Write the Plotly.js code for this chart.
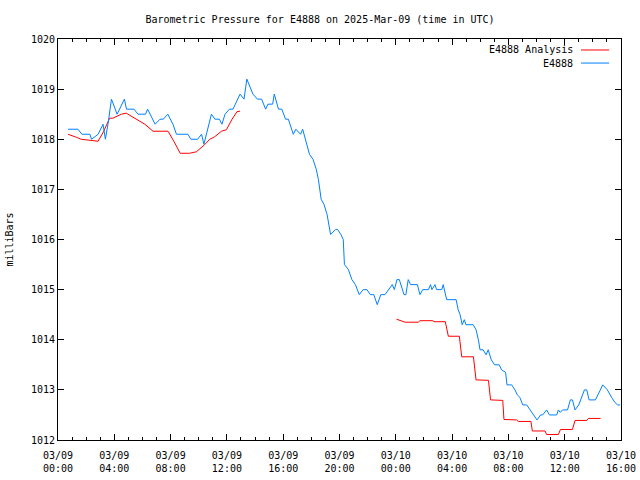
<!DOCTYPE html>
<html>
<head>
<meta charset="utf-8">
<script src="https://cdn.plot.ly/plotly-3.0.1.min.js"></script>
<style>html,body{margin:0;padding:0;background:#fff;}#chart{width:640px;height:480px;}</style>
</head>
<body>
<div id="chart"></div>
<script>
// Observed station pressure (E4888), times in UTC
const obsTimes = [
"2025-03-09 00:43","2025-03-09 01:25","2025-03-09 01:42","2025-03-09 02:16","2025-03-09 02:23","2025-03-09 02:51",
"2025-03-09 03:12","2025-03-09 03:22","2025-03-09 03:33","2025-03-09 03:48","2025-03-09 04:12","2025-03-09 04:43",
"2025-03-09 04:52","2025-03-09 05:24","2025-03-09 05:41","2025-03-09 06:13","2025-03-09 06:22","2025-03-09 06:54",
"2025-03-09 07:15","2025-03-09 07:29","2025-03-09 07:48","2025-03-09 08:10","2025-03-09 08:25","2025-03-09 09:14",
"2025-03-09 09:26","2025-03-09 09:55","2025-03-09 10:12","2025-03-09 10:22","2025-03-09 10:54","2025-03-09 11:09",
"2025-03-09 11:28","2025-03-09 11:39","2025-03-09 11:52","2025-03-09 12:11","2025-03-09 12:26","2025-03-09 12:56",
"2025-03-09 13:13","2025-03-09 13:25","2025-03-09 13:51","2025-03-09 14:10","2025-03-09 14:28","2025-03-09 14:45",
"2025-03-09 14:55","2025-03-09 15:15","2025-03-09 15:22","2025-03-09 15:40","2025-03-09 15:54","2025-03-09 16:10",
"2025-03-09 16:22","2025-03-09 16:43","2025-03-09 16:54","2025-03-09 17:14","2025-03-09 17:23","2025-03-09 17:35",
"2025-03-09 17:52","2025-03-09 18:07","2025-03-09 18:21","2025-03-09 18:30","2025-03-09 18:36","2025-03-09 18:42",
"2025-03-09 18:54","2025-03-09 19:07","2025-03-09 19:22","2025-03-09 19:43","2025-03-09 19:52","2025-03-09 20:06",
"2025-03-09 20:16","2025-03-09 20:21","2025-03-09 20:38","2025-03-09 20:53","2025-03-09 21:08","2025-03-09 21:24",
"2025-03-09 21:41","2025-03-09 21:57","2025-03-09 22:11","2025-03-09 22:26","2025-03-09 22:41","2025-03-09 22:56",
"2025-03-09 23:14","2025-03-09 23:31","2025-03-09 23:45","2025-03-09 23:54","2025-03-10 00:05","2025-03-10 00:15",
"2025-03-10 00:25","2025-03-10 00:35","2025-03-10 00:43","2025-03-10 00:53","2025-03-10 01:03","2025-03-10 01:32",
"2025-03-10 01:43","2025-03-10 01:55","2025-03-10 02:19","2025-03-10 02:28","2025-03-10 02:34","2025-03-10 02:47",
"2025-03-10 02:54","2025-03-10 03:16","2025-03-10 03:22","2025-03-10 03:37","2025-03-10 04:17","2025-03-10 04:26",
"2025-03-10 04:34","2025-03-10 04:43","2025-03-10 04:52","2025-03-10 04:59","2025-03-10 05:30","2025-03-10 05:42",
"2025-03-10 05:52","2025-03-10 05:59","2025-03-10 06:12","2025-03-10 06:25","2025-03-10 06:34","2025-03-10 06:47",
"2025-03-10 07:01","2025-03-10 07:21","2025-03-10 07:31","2025-03-10 07:48","2025-03-10 07:54","2025-03-10 08:14",
"2025-03-10 08:28","2025-03-10 08:38","2025-03-10 08:49","2025-03-10 09:01","2025-03-10 09:18","2025-03-10 09:32",
"2025-03-10 09:46","2025-03-10 10:02","2025-03-10 10:17","2025-03-10 10:26","2025-03-10 10:43","2025-03-10 10:55",
"2025-03-10 11:26","2025-03-10 11:33","2025-03-10 11:41","2025-03-10 11:51","2025-03-10 12:12","2025-03-10 12:24",
"2025-03-10 12:33","2025-03-10 12:44","2025-03-10 13:00","2025-03-10 13:14","2025-03-10 13:24","2025-03-10 13:34",
"2025-03-10 13:44","2025-03-10 14:11","2025-03-10 14:20","2025-03-10 14:32","2025-03-10 14:42","2025-03-10 15:02",
"2025-03-10 15:20","2025-03-10 15:34","2025-03-10 15:45","2025-03-10 15:56"
];
const obsPressure = [
1018.2,1018.2,1018.1,1018.1,1018.0,1018.1,
1018.3,1018.0,1018.3,1018.8,1018.5,1018.8,
1018.6,1018.6,1018.5,1018.5,1018.6,1018.3,
1018.4,1018.4,1018.5,1018.3,1018.1,1018.1,
1018.0,1018.0,1018.1,1017.9,1018.5,1018.4,
1018.4,1018.3,1018.5,1018.6,1018.6,1018.9,
1018.8,1019.2,1018.9,1018.8,1018.8,1018.6,
1018.7,1018.7,1018.9,1018.6,1018.6,1018.4,
1018.4,1018.1,1018.2,1018.1,1018.2,1018.0,
1017.7,1017.6,1017.4,1017.2,1017.0,1016.8,
1016.7,1016.5,1016.1,1016.2,1016.2,1016.1,
1016.0,1015.5,1015.4,1015.2,1015.1,1014.9,
1015.0,1015.0,1014.9,1014.9,1014.7,1014.9,
1014.9,1015.0,1015.1,1015.0,1015.2,1015.2,
1015.05,1014.9,1014.9,1015.2,1015.1,1015.1,
1014.9,1015.0,1015.0,1015.1,1015.0,1015.1,
1015.0,1015.0,1015.1,1014.8,1014.8,1014.6,
1014.5,1014.3,1014.4,1014.3,1014.3,1014.2,
1014.0,1013.8,1013.8,1013.7,1013.8,1013.6,
1013.5,1013.5,1013.4,1013.35,1013.1,1013.1,
1013.0,1012.9,1012.85,1012.7,1012.7,1012.6,
1012.5,1012.4,1012.5,1012.5,1012.6,1012.5,
1012.5,1012.6,1012.55,1012.6,1012.6,1012.8,
1012.8,1012.6,1012.7,1012.9,1013.0,1013.0,
1012.8,1012.8,1012.9,1013.0,1013.1,1013.0,
1012.85,1012.75,1012.7,1012.7
];

// Analysis pressure (null marks the gap in the analysis record)
const anaTimes = [
"2025-03-09 00:43","2025-03-09 00:57","2025-03-09 01:18","2025-03-09 01:39","2025-03-09 02:08","2025-03-09 02:29",
"2025-03-09 02:51","2025-03-09 03:15","2025-03-09 03:40","2025-03-09 03:54","2025-03-09 04:09","2025-03-09 04:30",
"2025-03-09 04:51","2025-03-09 05:06","2025-03-09 05:41","2025-03-09 06:10","2025-03-09 06:45","2025-03-09 07:49",
"2025-03-09 08:15","2025-03-09 08:41","2025-03-09 09:21","2025-03-09 09:50","2025-03-09 10:25","2025-03-09 10:47",
"2025-03-09 11:08","2025-03-09 11:37","2025-03-09 11:58","2025-03-09 12:22","2025-03-09 12:43","2025-03-09 12:56",
"2025-03-09 18:00",
"2025-03-10 00:03","2025-03-10 00:18","2025-03-10 00:40","2025-03-10 01:36","2025-03-10 01:43","2025-03-10 02:38",
"2025-03-10 02:43","2025-03-10 03:31","2025-03-10 03:37","2025-03-10 03:44","2025-03-10 04:31","2025-03-10 04:41",
"2025-03-10 05:31","2025-03-10 05:42","2025-03-10 06:35","2025-03-10 06:44","2025-03-10 07:36","2025-03-10 07:41",
"2025-03-10 08:35","2025-03-10 08:42","2025-03-10 09:36","2025-03-10 09:42","2025-03-10 10:36","2025-03-10 10:43",
"2025-03-10 11:33","2025-03-10 11:42","2025-03-10 12:33","2025-03-10 12:44","2025-03-10 13:34","2025-03-10 13:41",
"2025-03-10 14:33"
];
const anaPressure = [
1018.10,1018.08,1018.04,1018.00,1017.98,1017.96,
1017.96,1018.16,1018.42,1018.42,1018.46,1018.50,
1018.52,1018.48,1018.38,1018.30,1018.16,1018.16,
1017.95,1017.72,1017.72,1017.75,1017.89,1018.00,
1018.05,1018.16,1018.19,1018.40,1018.55,1018.56,
null,
1014.41,1014.39,1014.35,1014.35,1014.38,1014.38,
1014.36,1014.36,1014.21,1014.07,1014.07,1013.66,
1013.66,1013.20,1013.19,1012.80,1012.79,1012.41,
1012.40,1012.37,1012.37,1012.18,1012.18,1012.11,
1012.11,1012.21,1012.21,1012.39,1012.39,1012.43,
1012.43
];

const xTickVals = ["2025-03-09 00:00","2025-03-09 04:00","2025-03-09 08:00","2025-03-09 12:00","2025-03-09 16:00",
"2025-03-09 20:00","2025-03-10 00:00","2025-03-10 04:00","2025-03-10 08:00","2025-03-10 12:00","2025-03-10 16:00"];
const xTickText = ["03/09<br>00:00","03/09<br>04:00","03/09<br>08:00","03/09<br>12:00","03/09<br>16:00",
"03/09<br>20:00","03/10<br>00:00","03/10<br>04:00","03/10<br>08:00","03/10<br>12:00","03/10<br>16:00"];
const yTickVals = [1012,1013,1014,1015,1016,1017,1018,1019,1020];
const seriesNames = ["E4888 Analysis","E4888"];
const seriesColors = ["#ff0000","#0080ff"];

const font = {family: "DejaVu Sans Mono, monospace", size: 10, color: "#000"};

const traces = [
  {x: anaTimes, y: anaPressure, type: "scatter", mode: "lines", name: seriesNames[0],
   line: {color: seriesColors[0], width: 1}, connectgaps: false, showlegend: false},
  {x: obsTimes, y: obsPressure, type: "scatter", mode: "lines", name: seriesNames[1],
   line: {color: seriesColors[1], width: 1}, showlegend: false}
];

// Legend drawn gnuplot-style: text on the left, line sample on the right
const legendY = [0.9726, 0.940];
const annotations = seriesNames.map((n, i) => ({
  xref: "paper", yref: "paper", x: 0.918, y: legendY[i], xanchor: "right", yanchor: "middle",
  text: n, showarrow: false, font: font
}));
const shapes = seriesNames.map((n, i) => ({
  type: "line", xref: "paper", yref: "paper", x0: 0.929, x1: 0.979, y0: legendY[i], y1: legendY[i],
  line: {color: seriesColors[i], width: 1}
}));

const layout = {
  width: 640, height: 480,
  margin: {l: 58, r: 19, t: 39, b: 40, pad: 0},
  paper_bgcolor: "#fff", plot_bgcolor: "#fff",
  font: font,
  title: {text: "Barometric Pressure for E4888 on 2025-Mar-09 (time in UTC)", font: font,
          x: 0.5, xanchor: "center", y: 0.96, yanchor: "middle"},
  xaxis: {
    type: "date", range: ["2025-03-09 00:00", "2025-03-10 16:00"],
    tickvals: xTickVals, ticktext: xTickText, tickfont: font,
    ticks: "inside", ticklen: 6, tickcolor: "#000", tickwidth: 1, ticklabelstandoff: 6,
    minor: {dtick: 3600000, ticks: "inside", ticklen: 3, tickcolor: "#000", showgrid: false},
    showline: true, linecolor: "#000", linewidth: 1, mirror: "ticks",
    showgrid: false, zeroline: false, fixedrange: true
  },
  yaxis: {
    range: [1012, 1020], tickvals: yTickVals, tickfont: font,
    ticks: "inside", ticklen: 6, tickcolor: "#000", tickwidth: 1,
    showline: true, linecolor: "#000", linewidth: 1, mirror: "ticks",
    showgrid: false, zeroline: false, fixedrange: true,
    title: {text: "milliBars", font: font, standoff: 15}
  },
  annotations: annotations,
  shapes: shapes,
  showlegend: false
};

Plotly.newPlot("chart", traces, layout, {displayModeBar: false, staticPlot: true});
</script>
</body>
</html>
